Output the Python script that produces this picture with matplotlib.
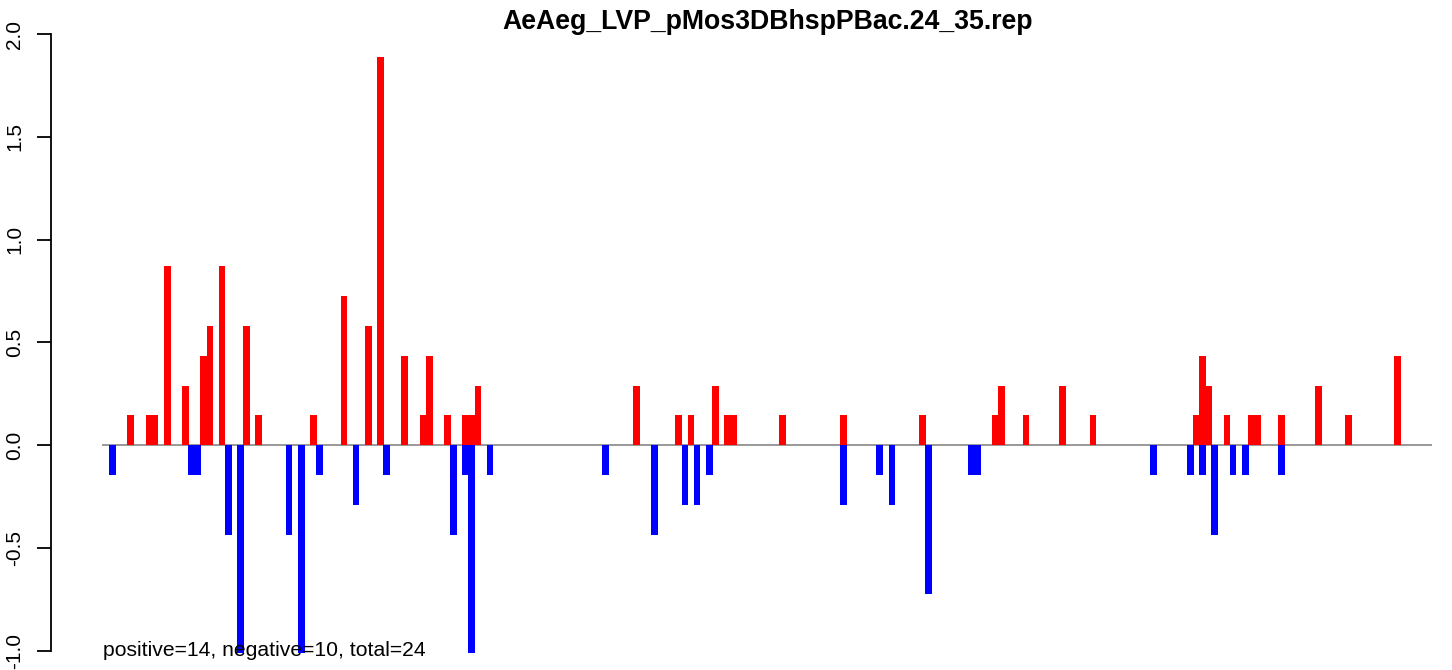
import numpy as np
import matplotlib
matplotlib.use("Agg")
from matplotlib import pyplot as plt

plt.rcParams["font.family"] = ["Liberation Sans", "DejaVu Sans"]

TITLE = "AeAeg_LVP_pMos3DBhspPBac.24_35.rep"
SUMMARY = "positive=14, negative=10, total=24"

# bin index and value of each bar
pos_idx = [3, 6, 7, 9, 12, 15, 16, 18, 22, 24, 33, 38, 42, 44, 48, 51, 52, 55,
           58, 59, 60, 86, 93, 95, 99, 101, 102, 110, 120, 133, 145, 146, 150,
           156, 161, 178, 179, 180, 183, 187, 188, 192, 198, 203, 211]
pos_val = [0.145, 0.145, 0.145, 0.87, 0.29, 0.435, 0.58, 0.87, 0.58, 0.145,
           0.145, 0.725, 0.58, 1.886, 0.435, 0.145, 0.435, 0.145,
           0.145, 0.145, 0.29, 0.29, 0.145, 0.145, 0.29, 0.145, 0.145, 0.145,
           0.145, 0.145, 0.145, 0.29, 0.145, 0.29, 0.145, 0.145, 0.435, 0.29,
           0.145, 0.145, 0.145, 0.145, 0.29, 0.145, 0.435]

neg_idx = [0, 13, 14, 19, 21, 29, 31, 34, 40, 45, 56, 58, 59, 62, 81, 89, 94,
           96, 98, 120, 126, 128, 134, 141, 142, 171, 177, 179, 181, 184, 186, 192]
neg_val = [-0.145, -0.145, -0.145, -0.435, -1.01, -0.435, -1.01, -0.145, -0.29,
           -0.145, -0.435, -0.145, -1.01, -0.145, -0.145, -0.435, -0.29, -0.29,
           -0.145, -0.29, -0.145, -0.29, -0.725, -0.145, -0.145, -0.145, -0.145,
           -0.145, -0.435, -0.145, -0.145, -0.145]

BASE_START, BASE_END = -1.56, 216.7

fig = plt.figure(figsize=(14.52, 6.70), dpi=100)
ax = fig.add_axes([0.0349, 0.0288, 0.9513, 0.9204])

ax.plot([BASE_START, BASE_END], [0, 0], color="#999999", linewidth=1.4, zorder=1)
ax.bar(pos_idx, pos_val, width=1.1, color="red", linewidth=0, zorder=2)
negbars = ax.bar(neg_idx, neg_val, width=1.1, color="blue", linewidth=0, zorder=2)
for b in negbars:
    b.set_clip_on(False)

ax.set_xlim(-10.15, 216.67)
ax.set_ylim(-1.0, 2.0)

for s in ["top", "right", "bottom"]:
    ax.spines[s].set_visible(False)
ax.spines["left"].set_linewidth(1.3)
ax.set_xticks([])
ticks = np.arange(-1.0, 2.01, 0.5)
ax.set_yticks(ticks)
ax.set_yticklabels(["%.1f" % v for v in ticks], rotation=90, va="center", fontsize=15)
ax.tick_params(axis="y", length=10, width=1.3, pad=9)

ax.text(BASE_START, -1.026, SUMMARY, fontsize=15.2, ha="left", va="baseline",
        zorder=5, clip_on=False)
fig.text(767.5 / 1452, (670 - 29) / 670, TITLE, fontsize=19.2, fontweight="bold",
         ha="center", va="baseline")

fig.savefig("out.png", dpi=100)
